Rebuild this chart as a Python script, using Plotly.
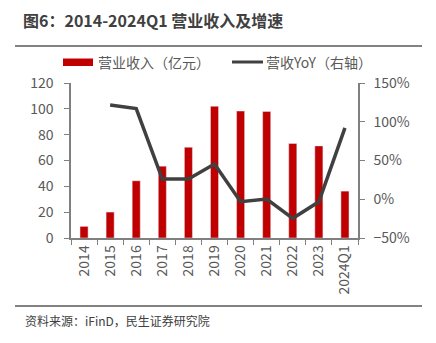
import plotly.graph_objects as go

categories = ["2014", "2015", "2016", "2017", "2018", "2019", "2020", "2021", "2022", "2023", "2024Q1"]
revenue = [9.0, 20.1, 44.3, 55.6, 70.3, 102.0, 98.3, 98.0, 73.2, 71.3, 36.3]
yoy = [None, 121.5, 117.0, 26.0, 26.0, 45.5, -3.2, 0.2, -24.6, -3.2, 92.0]

title_text = "图6：2014-2024Q1 营业收入及增速"
source_text = "资料来源：iFinD，民生证券研究院"
bar_name = "营业收入（亿元）"
line_name = "营收YoY（右轴）"

FONT = "Noto Sans CJK SC"
RED = "#C00000"
DARK = "#404040"
GRAY = "#595959"

W, H = 436, 343
L, R, T, B = 71, 78, 83, 105
pw = W - L - R
ph = H - T - B

def px(X):
    return (X - L) / pw

def py(Y):
    return (H - B - Y) / ph

fig = go.Figure()
fig.add_trace(go.Bar(x=categories, y=revenue, name=bar_name, marker_color=RED,
                     width=0.31, yaxis="y"))
fig.add_trace(go.Scatter(x=categories, y=yoy, name=line_name, mode="lines",
                         line=dict(color=DARK, width=3.5), yaxis="y2",
                         connectgaps=False))

shapes = [
    dict(type="line", xref="paper", yref="paper", x0=px(15), x1=px(422), y0=py(46), y1=py(46),
         line=dict(color="#595959", width=1.5)),
    dict(type="line", xref="paper", yref="paper", x0=px(15), x1=px(422), y0=py(306), y1=py(306),
         line=dict(color="#595959", width=1.5)),
    dict(type="rect", xref="paper", yref="paper", x0=px(63), x1=px(93), y0=py(58.5), y1=py(66),
         fillcolor=RED, line=dict(width=0)),
    dict(type="line", xref="paper", yref="paper", x0=px(232), x1=px(263), y0=py(62), y1=py(62),
         line=dict(color=DARK, width=3)),
]

annotations = [
    dict(text=source_text, xref="paper", yref="paper", x=px(23), y=py(320), xanchor="left",
         yanchor="middle", showarrow=False, font=dict(family=FONT, size=12, color=DARK)),
    dict(text=bar_name, xref="paper", yref="paper", x=px(96), y=py(62), xanchor="left",
         yanchor="middle", showarrow=False, font=dict(family=FONT, size=14, color=GRAY)),
    dict(text=line_name, xref="paper", yref="paper", x=px(264), y=py(62), xanchor="left",
         yanchor="middle", showarrow=False, font=dict(family=FONT, size=14, color=GRAY)),
]

fig.update_layout(
    width=W, height=H,
    margin=dict(l=L, r=R, t=T, b=B),
    paper_bgcolor="white", plot_bgcolor="white",
    showlegend=False,
    title=dict(text="<b>" + title_text + "</b>", x=23 / W, xanchor="left",
               y=1 - 21 / H, yanchor="middle", yref="container",
               font=dict(family=FONT, size=16, color=DARK)),
    xaxis=dict(type="category", showline=True, linecolor="#808080", linewidth=1.5,
               ticks="outside", tickson="boundaries", ticklen=5, tickcolor="#808080",
               tickangle=-90, tickfont=dict(family=FONT, size=14, color=GRAY),
               showgrid=False, zeroline=False, range=[-0.5, 10.5]),
    yaxis=dict(range=[0, 120], dtick=20, showline=True, linecolor="#808080", linewidth=1.5,
               ticks="outside", ticklen=5, tickcolor="#808080", showgrid=False, zeroline=False,
               tickfont=dict(family=FONT, size=14, color=GRAY), ticklabelstandoff=8),
    yaxis2=dict(range=[-50, 150], dtick=50, ticksuffix="%", overlaying="y", side="right",
                showline=True, linecolor="#808080", linewidth=1.5, ticks="outside", ticklen=5,
                tickcolor="#808080", showgrid=False, zeroline=False,
                tickfont=dict(family=FONT, size=14, color=GRAY), ticklabelstandoff=6),
    shapes=shapes,
    annotations=annotations,
    bargap=0.69,
)

fig.write_html("out.html")
